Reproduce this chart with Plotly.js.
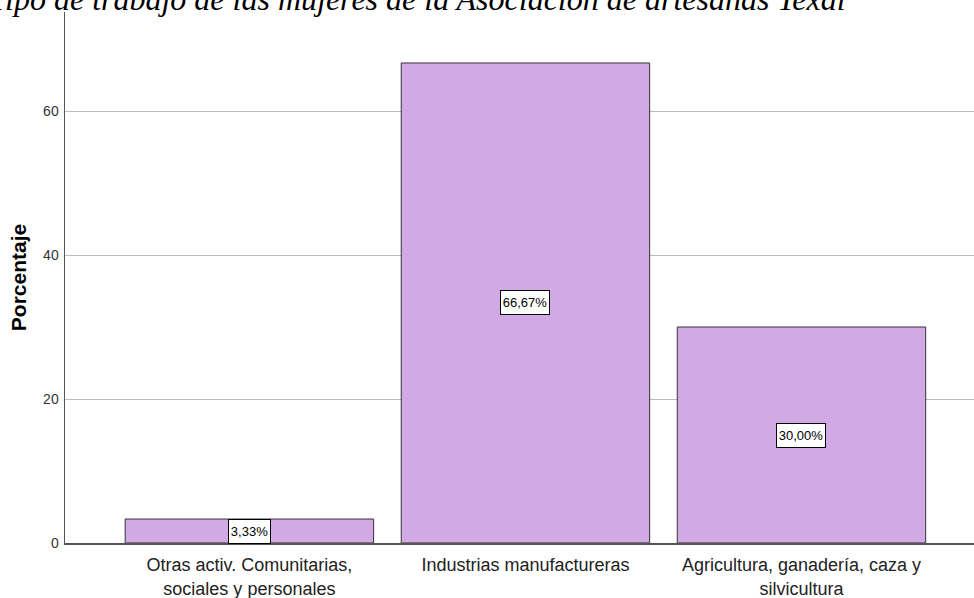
<!DOCTYPE html>
<html>
<head>
<meta charset="utf-8">
<script src="https://cdn.plot.ly/plotly-3.0.1.min.js"></script>
<style>html,body{margin:0;padding:0;background:#fff;overflow:hidden}#chart{width:974px;height:598px}</style>
</head>
<body>
<div id="chart"></div>
<script>
const categories = ["Otras activ. Comunitarias,<br>sociales y personales", "Industrias manufactureras", "Agricultura, ganadería, caza y<br>silvicultura"];
const percentages = [3.33, 66.67, 30.00];
const valueLabels = ["3,33%", "66,67%", "30,00%"];
const yTicks = [0, 20, 40, 60];
const titleText = "Tipo de trabajo de las mujeres de la Asociación de artesanas Texal";
const yTitle = "Porcentaje";

const trace = {
  type: "bar",
  x: [0, 1, 2],
  y: percentages,
  width: 0.9,
  marker: {color: "#D1A9E4", line: {color: "#333333", width: 1}},
  hoverinfo: "none"
};

const annotations = percentages.map((v, i) => ({
  x: i, y: v / 2, xref: "x", yref: "y",
  text: valueLabels[i], showarrow: false,
  font: {family: "Liberation Sans, Arial", size: 13, color: "#000"},
  width: valueLabels[i].length * 7 + 4, height: 21,
  bgcolor: "#ffffff", bordercolor: "#000000", borderwidth: 1, borderpad: 1
}));

annotations.push({
  xref: "paper", yref: "paper", x: (848 - 65) / 909, y: 1,
  xanchor: "right", yanchor: "bottom", yshift: -7,
  text: "<i>" + titleText + "</i>", showarrow: false,
  font: {family: "Liberation Serif, Times New Roman, serif", size: 32, color: "#000"}
});

const layout = {
  width: 974, height: 598,
  margin: {l: 65, r: 0, t: 12, b: 55},
  paper_bgcolor: "#fff", plot_bgcolor: "#fff",
  showlegend: false,
  xaxis: {
    range: [-0.668, 2.625],
    tickmode: "array", tickvals: [0, 1, 2], ticktext: categories,
    showline: true, linecolor: "#555", linewidth: 1.5,
    showgrid: false, zeroline: false, ticks: "",
    ticklabelstandoff: 5,
    tickfont: {family: "Liberation Sans, Arial", size: 18, color: "#222"}
  },
  yaxis: {
    range: [0, 73.75],
    tickmode: "array", tickvals: yTicks,
    showline: true, linecolor: "#555", linewidth: 1.5,
    showgrid: true, gridcolor: "#bdbdbd", gridwidth: 1,
    zeroline: false, ticks: "",
    ticklabelstandoff: 2,
    tickfont: {family: "Liberation Sans, Arial", size: 14, color: "#333"},
    title: {text: "<b>" + yTitle + "</b>", font: {family: "Liberation Sans, Arial", size: 21, color: "#000"}, standoff: 11}
  },
  annotations: annotations
};

Plotly.newPlot("chart", [trace], layout, {displayModeBar: false, staticPlot: true});
</script>
</body>
</html>
